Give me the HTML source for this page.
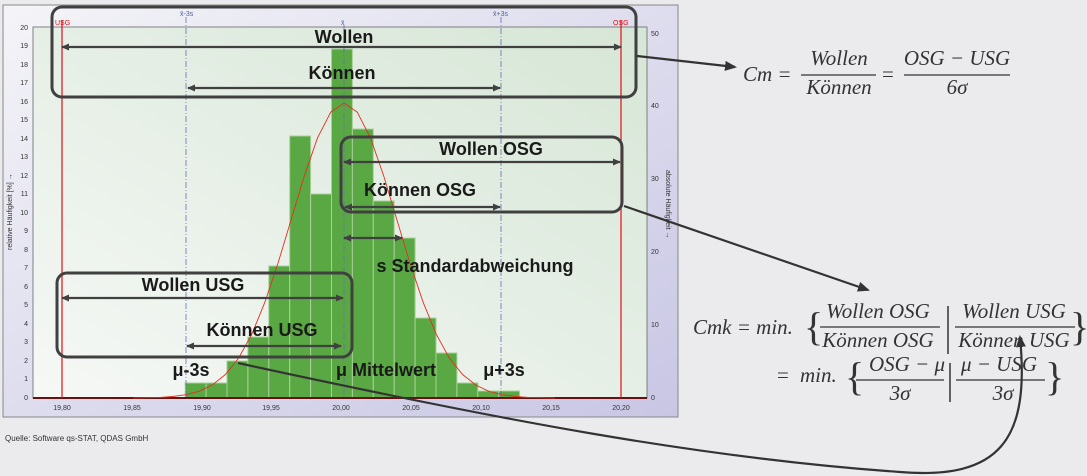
<!DOCTYPE html>
<html><head><meta charset="utf-8"><style>
html,body{margin:0;padding:0;background:#ebebed;}
svg{display:block;}
.m{font-family:"Liberation Serif",serif;font-style:italic;font-size:21px;fill:#333;}
.b{font-family:"Liberation Sans",sans-serif;font-weight:bold;fill:#1a1a1a;}
.ax{font-family:"Liberation Sans",sans-serif;font-size:7px;fill:#333;}
</style></head><body>
<svg width="1087" height="476" viewBox="0 0 1087 476" xmlns="http://www.w3.org/2000/svg">
<defs>
<linearGradient id="fr" x1="0" y1="0" x2="1" y2="1"><stop offset="0" stop-color="#f4f4f8"/><stop offset="1" stop-color="#c8c6e4"/></linearGradient>
<linearGradient id="pl" x1="1" y1="0" x2="0" y2="1"><stop offset="0" stop-color="#d6e6d6"/><stop offset="1" stop-color="#f6f8f6"/></linearGradient>
<marker id="ah" markerWidth="8" markerHeight="8" refX="7" refY="4" orient="auto" markerUnits="userSpaceOnUse"><path d="M0,0.5 L8,4 L0,7.5z" fill="#404040"/></marker>
<marker id="at" markerWidth="8" markerHeight="8" refX="1" refY="4" orient="auto" markerUnits="userSpaceOnUse"><path d="M8,0.5 L0,4 L8,7.5z" fill="#404040"/></marker>
<marker id="ca" markerWidth="12" markerHeight="10" refX="10" refY="5" orient="auto" markerUnits="userSpaceOnUse"><path d="M0,0 L12,5 L0,10z" fill="#333"/></marker>
</defs>
<rect x="3" y="5" width="675" height="412" fill="url(#fr)" stroke="#888" stroke-width="1"/>
<rect x="33" y="27" width="614" height="371" fill="url(#pl)" stroke="#666" stroke-width="0.8"/>
<g fill="#5aa843" stroke="#a8cf98" stroke-width="1">
<rect x="185.2" y="383" width="20.9" height="15"/>
<rect x="206.1" y="383" width="20.9" height="15"/>
<rect x="227.0" y="361" width="20.9" height="37"/>
<rect x="247.9" y="337" width="20.9" height="61"/>
<rect x="268.8" y="266" width="20.9" height="132"/>
<rect x="289.7" y="136" width="20.9" height="262"/>
<rect x="310.6" y="194" width="20.9" height="204"/>
<rect x="331.5" y="49" width="20.9" height="349"/>
<rect x="352.4" y="129" width="20.9" height="269"/>
<rect x="373.3" y="201" width="20.9" height="197"/>
<rect x="394.2" y="238" width="20.9" height="160"/>
<rect x="415.1" y="318" width="20.9" height="80"/>
<rect x="436.0" y="353" width="20.9" height="45"/>
<rect x="456.9" y="383" width="20.9" height="15"/>
<rect x="477.8" y="391" width="20.9" height="7"/>
<rect x="498.7" y="391" width="20.9" height="7"/>
</g>
<line x1="33" y1="398" x2="647" y2="398" stroke="#6b1010" stroke-width="2"/>
<polyline fill="none" stroke="#e03020" stroke-width="0.9" points="133.2,397.9 159.5,397.4 172.7,396.5 185.9,394.7 199.1,391.3 212.2,385 225.4,374.5 238.6,358.1 251.8,334.2 264.9,302.2 278.1,262.9 291.3,219.1 304.5,175.3 317.6,137.7 330.8,112.1 344,103 357.2,112.1 370.4,137.7 383.5,175.3 396.7,219.1 409.9,262.9 423.1,302.2 436.2,334.2 449.4,358.1 462.6,374.5 475.8,385 488.9,391.3 502.1,394.7 515.3,396.5 528.5,397.4 554.8,397.9"/>
<line x1="62" y1="20" x2="62" y2="398" stroke="#e01010" stroke-width="1.2"/>
<line x1="621" y1="20" x2="621" y2="398" stroke="#e01010" stroke-width="1.2"/>
<g stroke="#6070b0" stroke-width="0.8" stroke-dasharray="6,2,1,2">
<line x1="186" y1="17" x2="186" y2="398"/><line x1="344" y1="25" x2="344" y2="398"/><line x1="501" y1="17" x2="501" y2="398"/>
</g>
<g font-family="Liberation Sans,sans-serif" font-size="7">
<text x="55" y="25" fill="#e01010">USG</text><text x="613" y="25" fill="#e01010">OSG</text>
<text x="180" y="16" fill="#5060a0">x̄-3s</text><text x="341" y="25" fill="#5060a0">x̄</text><text x="493" y="16" fill="#5060a0">x̄+3s</text>
</g>
<g class="ax" text-anchor="end">
<text x="28" y="400">0</text><text x="28" y="381">1</text><text x="28" y="363">2</text><text x="28" y="344">3</text><text x="28" y="326">4</text><text x="28" y="307">5</text><text x="28" y="289">6</text><text x="28" y="270">7</text><text x="28" y="252">8</text><text x="28" y="233">9</text><text x="28" y="215">10</text><text x="28" y="196">11</text><text x="28" y="178">12</text><text x="28" y="159">13</text><text x="28" y="141">14</text><text x="28" y="122">15</text><text x="28" y="104">16</text><text x="28" y="85">17</text><text x="28" y="67">18</text><text x="28" y="48">19</text><text x="28" y="30">20</text>
</g>
<g class="ax"><text x="651" y="400">0</text><text x="651" y="327">10</text><text x="651" y="254">20</text><text x="651" y="181">30</text><text x="651" y="108">40</text><text x="651" y="36">50</text></g>
<g class="ax" text-anchor="middle">
<text x="62" y="410">19,80</text><text x="132" y="410">19,85</text><text x="202" y="410">19,90</text><text x="271" y="410">19,95</text><text x="341" y="410">20,00</text><text x="411" y="410">20,05</text><text x="481" y="410">20,10</text><text x="551" y="410">20,15</text><text x="621" y="410">20,20</text>
</g>
<text class="ax" transform="translate(12,250) rotate(-90)" font-size="6.5">relative Häufigkeit [%] →</text>
<text class="ax" transform="translate(666,170) rotate(90)" font-size="6.5">absolute Häufigkeit →</text>
<g fill="none" stroke="#404040" stroke-width="3">
<rect x="52" y="7" width="584" height="90" rx="10"/>
<rect x="341" y="137" width="281" height="75" rx="10"/>
<rect x="57" y="273" width="295" height="84" rx="10"/>
</g>
<g stroke="#404040" stroke-width="2.2" marker-start="url(#at)" marker-end="url(#ah)">
<line x1="62" y1="47" x2="621" y2="47"/>
<line x1="188" y1="88" x2="500" y2="88"/>
<line x1="344" y1="162" x2="620" y2="162"/>
<line x1="345" y1="207" x2="500" y2="207"/>
<line x1="344" y1="238" x2="402" y2="238"/>
<line x1="62" y1="298" x2="343" y2="298"/>
<line x1="187" y1="346" x2="341" y2="346"/>
</g>
<g class="b" font-size="18" text-anchor="middle">
<text x="344" y="43">Wollen</text>
<text x="342" y="79">Können</text>
<text x="491" y="155">Wollen OSG</text>
<text x="420" y="196">Können OSG</text>
<text x="193" y="291">Wollen USG</text>
<text x="262" y="336">Können USG</text>
<text x="475" y="272">s Standardabweichung</text>
<text x="191" y="376">μ-3s</text>
<text x="386" y="376">μ Mittelwert</text>
<text x="504" y="376">μ+3s</text>
</g>
<g fill="none" stroke="#333" stroke-width="2.2">
<line x1="637" y1="56" x2="735" y2="67" marker-end="url(#ca)"/>
<line x1="624" y1="206" x2="868" y2="290" marker-end="url(#ca)"/>
<path d="M238,363 C500,420 700,458 900,472 C1000,480 1030,440 1020,337" marker-end="url(#ca)"/>
</g>
<text x="5" y="441" font-family="Liberation Sans,sans-serif" font-size="8" fill="#333">Quelle: Software qs-STAT, QDAS GmbH</text>
<g class="m">
<text x="743" y="81">Cm =</text>
<text x="839" y="65" text-anchor="middle">Wollen</text>
<line x1="801" y1="75" x2="876" y2="75" stroke="#333" stroke-width="1.2"/>
<text x="839" y="94" text-anchor="middle">Können</text>
<text x="882" y="81" style="font-style:normal">=</text>
<text x="957" y="65" text-anchor="middle">OSG − USG</text>
<line x1="904" y1="75" x2="1010" y2="75" stroke="#333" stroke-width="1.2"/>
<text x="957" y="94" text-anchor="middle">6σ</text>
</g>
<g class="m">
<text x="693" y="334">Cmk = min.</text>
<text x="804" y="340" style="font-style:normal;font-size:40px">{</text>
<text x="878" y="318" text-anchor="middle">Wollen OSG</text>
<line x1="820" y1="327" x2="940" y2="327" stroke="#333" stroke-width="1.2"/>
<text x="878" y="347" text-anchor="middle">Können OSG</text>
<line x1="948" y1="306" x2="948" y2="354" stroke="#333" stroke-width="1.5"/>
<text x="1014" y="318" text-anchor="middle">Wollen USG</text>
<line x1="955" y1="327" x2="1075" y2="327" stroke="#333" stroke-width="1.2"/>
<text x="1014" y="347" text-anchor="middle">Können USG</text>
<text x="1070" y="340" style="font-style:normal;font-size:40px">}</text>
<text x="777" y="382" style="font-style:normal">=</text>
<text x="800" y="382">min.</text>
<text x="845" y="390" style="font-style:normal;font-size:40px">{</text>
<text x="907" y="371" text-anchor="middle">OSG − μ</text>
<line x1="856" y1="380" x2="944" y2="380" stroke="#333" stroke-width="1.2"/>
<text x="900" y="400" text-anchor="middle">3σ</text>
<line x1="950" y1="363" x2="950" y2="402" stroke="#333" stroke-width="1.5"/>
<text x="999" y="371" text-anchor="middle">μ − USG</text>
<line x1="956" y1="380" x2="1045" y2="380" stroke="#333" stroke-width="1.2"/>
<text x="1003" y="400" text-anchor="middle">3σ</text>
<text x="1045" y="390" style="font-style:normal;font-size:40px">}</text>
</g>
</svg>
</body></html>
